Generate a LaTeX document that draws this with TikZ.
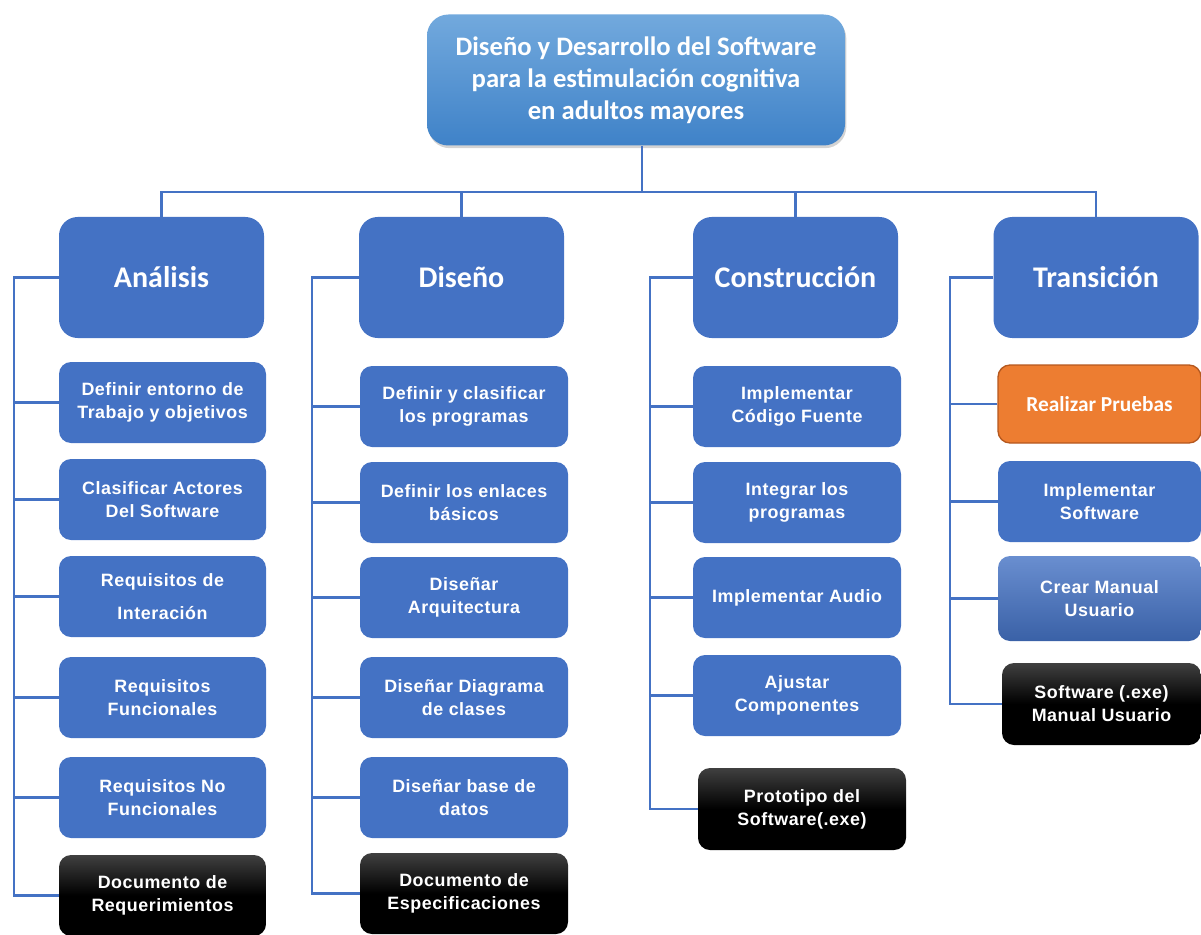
\documentclass[tikz,border=0pt]{standalone}
\usepackage{fontspec}
\setmainfont{Liberation Sans}
\newfontfamily\calfont{Carlito}
\newfontfamily\spacedfont{Liberation Sans}[LetterSpace=3]
\usetikzlibrary{shadows}
\definecolor{mblue}{HTML}{4472C4}
\definecolor{lineblue}{HTML}{4472C4}
\definecolor{topA}{HTML}{72A9DD}
\definecolor{topB}{HTML}{3F82C8}
\definecolor{morange}{HTML}{ED7D31}
\definecolor{oedge}{HTML}{B5581E}
\tikzset{
  px/.style={x=0.75pt,y=-0.75pt},
  conn/.style={draw=lineblue,line width=2.2pt},
  topbox/.style={rounded corners=16pt,top color=topA,bottom color=topB,draw=none,
     minimum width=313.5pt,minimum height=98.25pt,inner sep=0pt,align=center,
     text=white,font=\calfont\bfseries\fontsize{20}{24}\selectfont,
     drop shadow={shadow xshift=1pt,shadow yshift=-2pt,opacity=0.35}},
  catbox/.style={rounded corners=14pt,fill=mblue,draw=none,minimum width=153.75pt,
     minimum height=90.75pt,inner sep=0pt,align=center,text=white,
     font=\calfont\bfseries\fontsize{22.5}{26}\selectfont},
  child/.style={rounded corners=9pt,fill=mblue,draw=none,minimum width=155.25pt,
     minimum height=60.75pt,inner sep=0pt,align=center,text=white,
     font=\spacedfont\bfseries\fontsize{13.4}{17.2}\selectfont},
  gradchild/.style={child,fill=none,top color=mblue!80!white,bottom color=mblue!85!black},
  blackbox/.style={child,fill=none,top color=black!75,bottom color=black,middle color=black},
  orangebox/.style={child,fill=morange,draw=oedge,line width=1pt,
     font=\calfont\bfseries\fontsize{16}{19}\selectfont}
}
\begin{document}
\begin{tikzpicture}[px]
\useasboundingbox (0,0) rectangle (1201,934);
% top
\node[topbox] (top) at (636,80) {Diseño y Desarrollo del Software\\para la estimulación cognitiva\\en adultos mayores};
% categories
\node[catbox] (an) at (161.5,277.5) {Análisis};
\node[catbox] (di) at (461.5,277.5) {Diseño};
\node[catbox] (co) at (795.5,277.5) {Construcción};
\node[catbox] (tr) at (1096,277.5) {Transición};
% Analisis children
\node[child] (a1) at (162.5,402.5) {Definir entorno de\\Trabajo y objetivos};
\node[child] (a2) at (162.5,499.5) {Clasificar Actores\\Del Software};
\node[child] (a3) at (162.5,596.5) {Requisitos de\\[8pt]Interación};
\node[child] (a4) at (162.5,697.5) {Requisitos\\Funcionales};
\node[child] (a5) at (162.5,797.5) {Requisitos No\\Funcionales};
\node[blackbox] (a6) at (162.5,895.5) {Documento de\\Requerimientos};
% Diseno children
\node[child,minimum width=156pt] (d1) at (464,406.5) {Definir y clasificar\\los programas};
\node[child,minimum width=156pt] (d2) at (464,502.5) {Definir los enlaces\\básicos};
\node[child,minimum width=156pt] (d3) at (464,597.5) {Diseñar\\Arquitectura};
\node[child,minimum width=156pt] (d4) at (464,697.5) {Diseñar Diagrama\\de clases};
\node[child,minimum width=156pt] (d5) at (464,797.5) {Diseñar base de\\datos};
\node[blackbox,minimum width=156pt] (d6) at (464,893.5) {Documento de\\Especificaciones};
% Construccion children
\node[child,minimum width=156pt] (c1) at (797,406.5) {Implementar\\Código Fuente};
\node[child,minimum width=156pt] (c2) at (797,502.5) {Integrar los\\programas};
\node[child,minimum width=156pt] (c3) at (797,597.5) {Implementar Audio};
\node[child,minimum width=156pt] (c4) at (797,695.5) {Ajustar\\Componentes};
\node[blackbox,minimum width=156pt,minimum height=61.5pt] (c5) at (802,809) {Prototipo del\\Software(.exe)};
% Transicion children
\node[orangebox,minimum width=152.25pt,minimum height=58.5pt] (t1) at (1099.5,404) {Realizar Pruebas};
\node[child,minimum width=152.25pt] (t2) at (1099.5,501.5) {Implementar\\Software};
\node[gradchild,minimum width=152.25pt,minimum height=63.75pt] (t3) at (1099.5,598.5) {Crear Manual\\Usuario};
\node[blackbox,minimum width=149.25pt,minimum height=61.5pt] (t4) at (1101.5,704) {Software (.exe)\\Manual Usuario};
% bracket coordinates
\coordinate (bar) at (642,192);
\coordinate (bA) at (14,0);
\coordinate (bD) at (312,0);
\coordinate (bC) at (650,0);
\coordinate (bT) at (950,0);
% top connectors
\draw[conn] (top.south -| bar) -- (bar);
\draw[conn] (an.north) |- (tr.north |- bar) -- (tr.north);
\draw[conn] (di.north) -- (di.north |- bar);
\draw[conn] (co.north) -- (co.north |- bar);
% Analisis bracket
\draw[conn] (an.west) -- (an.west -| bA) |- (a6.west);
\foreach \n in {a1,a2,a3,a4,a5} \draw[conn] (\n.west) -- (\n.west -| bA);
% Diseno bracket
\draw[conn] (di.west) -- (di.west -| bD) |- (d6.west);
\foreach \n in {d1,d2,d3,d4,d5} \draw[conn] (\n.west) -- (\n.west -| bD);
% Construccion bracket
\draw[conn] (co.west) -- (co.west -| bC) |- (c5.west);
\foreach \n in {c1,c2,c3,c4} \draw[conn] (\n.west) -- (\n.west -| bC);
% Transicion bracket
\draw[conn] (tr.west) -- (tr.west -| bT) |- (t4.west);
\foreach \n in {t1,t2,t3} \draw[conn] (\n.west) -- (\n.west -| bT);
\end{tikzpicture}
\end{document}
